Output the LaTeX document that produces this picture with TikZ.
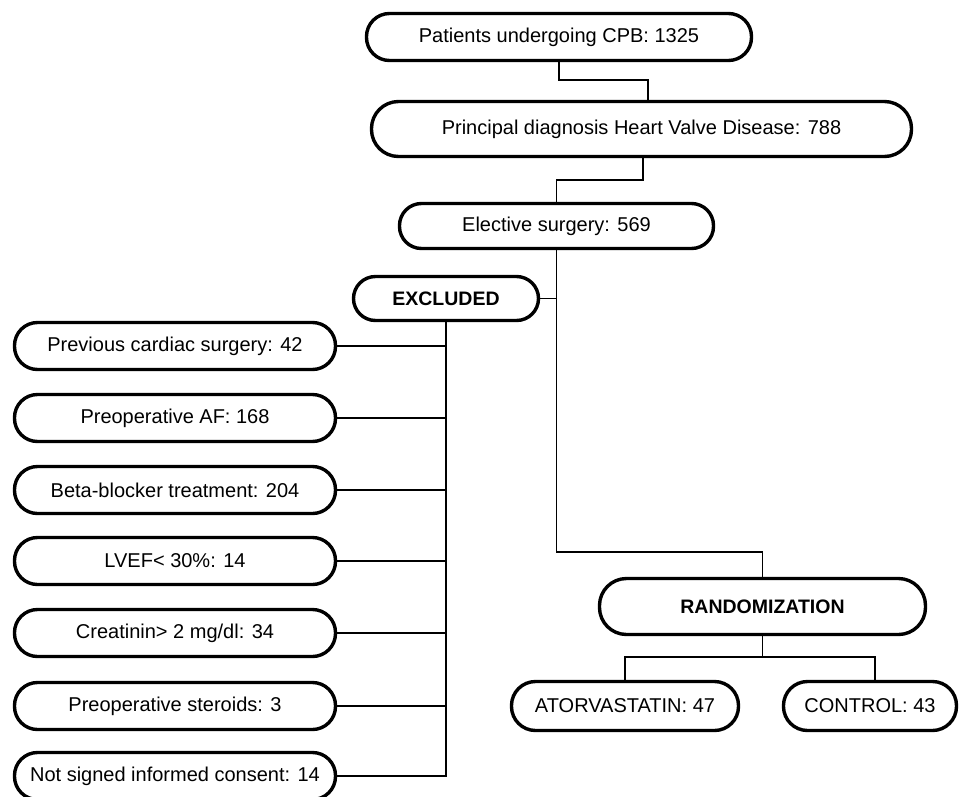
\documentclass[tikz,border=0pt]{standalone}
\usepackage{fontspec}
\setmainfont{Liberation Sans}
\begin{document}
\begin{tikzpicture}[x=1pt,y=1pt,
  pill/.style={draw=black, line width=3.4pt, rounded corners=#1, inner sep=0pt, align=center,
     font=\fontsize{20}{24}\selectfont},
  pill/.default=23pt,
  boldlab/.style={font=\fontsize{19.5}{24}\selectfont\bfseries},
  conn/.style={draw=black, line width=1.6pt}]
\useasboundingbox (0,0) rectangle (959,-796);
% main column
\node[pill=23pt, minimum width=385, minimum height=47] (n1) at (559,-37) {Patients undergoing CPB: 1325};
\node[pill=27pt, minimum width=540, minimum height=55] (n2) at (641.5,-129) {Principal diagnosis Heart Valve Disease: 788};
\node[pill=22pt, minimum width=314, minimum height=45] (n3) at (556.5,-226) {Elective surgery: 569};
\node[pill=22pt, boldlab, minimum width=185, minimum height=44] (excl) at (446,-298.5) {EXCLUDED};
% excluded reasons
\node[pill=23pt, minimum width=321, minimum height=47] (L1) at (175,-346) {Previous cardiac surgery: 42};
\node[pill=23pt, minimum width=321, minimum height=47] (L2) at (175,-418) {Preoperative AF: 168};
\node[pill=23pt, minimum width=321, minimum height=47] (L3) at (175,-490) {Beta-blocker treatment: 204};
\node[pill=23pt, minimum width=321, minimum height=47] (L4) at (175,-561) {LVEF{\textless} 30\%: 14};
\node[pill=23pt, minimum width=321, minimum height=47] (L5) at (175,-633) {Creatinin{\textgreater} 2 mg/dl: 34};
\node[pill=23pt, minimum width=321, minimum height=47] (L6) at (175,-706) {Preoperative steroids: 3};
\node[pill=23pt, minimum width=321, minimum height=47] (L7) at (175,-776) {Not signed informed consent: 14};
% randomization
\node[pill=27pt, boldlab, minimum width=326, minimum height=56] (rand) at (762.5,-606.5) {RANDOMIZATION};
\node[pill=24pt, minimum width=227, minimum height=49] (ator) at (625,-706) {ATORVASTATIN: 47};
\node[pill=24pt, minimum width=173, minimum height=49] (ctrl) at (870,-706) {CONTROL: 43};
% connectors
\coordinate (j1) at (556.5,-552);
\draw[conn] (n1.south) -- ++(0,-18) -| ([xshift=6.5pt]n2.north);
\draw[conn] ([xshift=1.5pt]n2.south) -- ++(0,-22) -| (n3.north);
\draw[conn] (n3.south) -- (j1) -| (rand.north);
\draw[conn] (excl.east) -- (excl.east -| j1);
\draw[conn] (excl.south) -- (excl.south |- L7.east) -- (L7.east);
\foreach \i in {1,...,6} {\draw[conn] (L\i.east) -- (L\i.east -| excl.south);}
\draw[conn] (rand.south) -- ++(0,-21) -| (ator.north);
\draw[conn] (rand.south) -- ++(0,-21) -| ([xshift=5pt]ctrl.north);
\end{tikzpicture}
\end{document}
